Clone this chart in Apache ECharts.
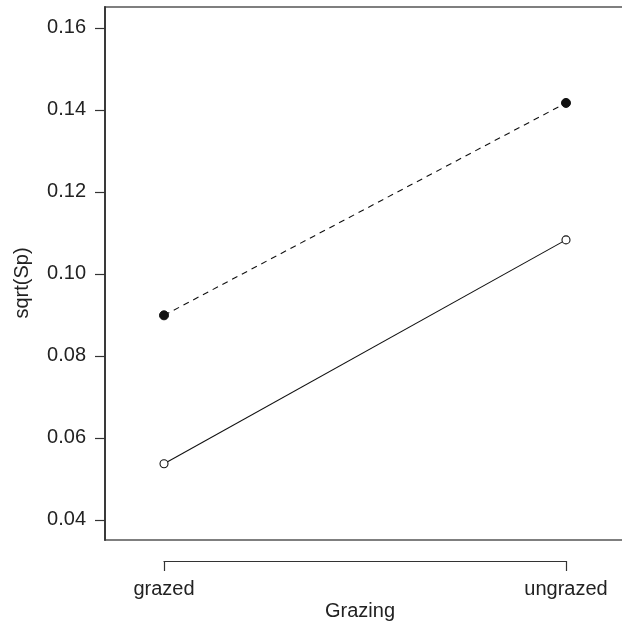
<!DOCTYPE html>
<html>
<head>
<meta charset="utf-8">
<script src="https://cdn.jsdelivr.net/npm/echarts@6/dist/echarts.min.js"></script>
<style>
  html, body { margin: 0; padding: 0; background: #fff; }
  #chart { width: 622px; height: 624px; }
</style>
</head>
<body>
<div id="chart"></div>
<script>
// data
var groups = ['grazed', 'ungrazed'];
var filledVals = [0.0899, 0.1417];   // dashed line, solid dots
var openVals = [0.0537, 0.1083];     // solid line, open circles
var yTicks = [0.04, 0.06, 0.08, 0.10, 0.12, 0.14, 0.16];

var txt = '#222';
var font = 'Liberation Sans, Arial, sans-serif';
var fs = 20;

function pts(vals) {
    return vals.map(function (v, i) { return [i + 1, v]; });
}

var myChart = echarts.init(document.getElementById('chart'));

var option = {
    animation: false,
    backgroundColor: '#fff',
    textStyle: { fontFamily: font },
    grid: [
        // right edge of the box runs off the picture
        { left: 105, right: -10, top: 7, bottom: 84, show: true, borderColor: '#555', borderWidth: 1.5,
          outerBoundsMode: 'none', containLabel: false },
        // bracket axis under the box
        { left: 164, right: 56, top: 560, bottom: 63, outerBoundsMode: 'none' }
    ],
    xAxis: [
        {
            gridIndex: 0, type: 'value', min: 0.8532, max: 2.1642,
            axisLine: { show: false }, axisTick: { show: false },
            axisLabel: { show: false }, splitLine: { show: false }
        },
        {
            gridIndex: 1, type: 'value', min: 1, max: 2, interval: 1,
            axisLine: { show: true, lineStyle: { color: '#333', width: 1.2 } },
            axisTick: { show: true, inside: false, length: 10, lineStyle: { color: '#333', width: 1.2 } },
            axisLabel: {
                margin: 18, color: txt, fontSize: fs, fontFamily: font,
                formatter: function (v) { return groups[Math.round(v) - 1] || ''; }
            },
            splitLine: { show: false }
        }
    ],
    yAxis: [
        {
            gridIndex: 0, type: 'value', min: 0.0351, max: 0.1651,
            axisLine: { show: true, lineStyle: { color: '#333', width: 1.8 } },
            axisTick: { show: true, length: 10, customValues: yTicks, lineStyle: { color: '#333', width: 1.2 } },
            axisLabel: {
                margin: 19, color: txt, fontSize: fs, fontFamily: font,
                customValues: yTicks,
                formatter: function (v) { return v.toFixed(2); }
            },
            splitLine: { show: false }
        },
        {
            gridIndex: 1, type: 'value', min: 0, max: 1, show: false
        }
    ],
    graphic: [
        {
            type: 'text', x: 360, y: 611,
            style: { text: 'Grazing', fill: txt, font: fs + 'px ' + font, textAlign: 'center', textVerticalAlign: 'middle' }
        },
        {
            type: 'text', x: 22, y: 283, rotation: Math.PI / 2,
            style: { text: 'sqrt(Sp)', fill: txt, font: fs + 'px ' + font, textAlign: 'center', textVerticalAlign: 'middle' }
        }
    ],
    series: [
        {
            type: 'line', xAxisIndex: 0, yAxisIndex: 0,
            data: pts(filledVals),
            symbol: 'circle', symbolSize: 9,
            lineStyle: { color: '#111', width: 1.1, type: [6, 5] },
            itemStyle: { color: '#111', borderColor: '#111', borderWidth: 1 }
        },
        {
            type: 'line', xAxisIndex: 0, yAxisIndex: 0,
            data: pts(openVals),
            symbol: 'circle', symbolSize: 8,
            lineStyle: { color: '#111', width: 1.1 },
            itemStyle: { color: '#fff', borderColor: '#111', borderWidth: 1.1 }
        }
    ]
};

myChart.setOption(option);
</script>
</body>
</html>
